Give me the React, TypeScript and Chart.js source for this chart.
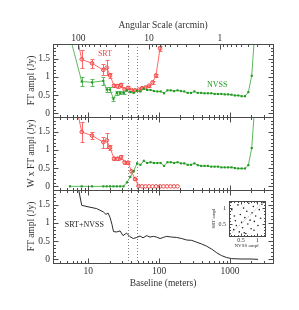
import React, { useEffect, useRef } from 'react';
import { Chart, registerables } from 'chart.js';
Chart.register(...registerables);

const FONT = "'Liberation Serif', 'Times New Roman', serif";
const RED = '#f04848';
const RED_LINE = '#ff6868';
const RED_FILL = 'rgba(255,150,150,0.35)';
const GREEN = '#1f9a1f';
const GREEN_LINE = '#5dba5d';
const INK = '#333333';
const FRAME = '#4a4a4a';
const DOT_LINE = '#808080';

// axis ranges
const X_MIN = 3.17;
const X_MAX = 4060;
const ARCMIN_TIMES_M = 721.9; // angular scale (arcmin) = this / baseline (m), 21 cm
const Y_MIN = -0.1;
const Y_MAX = 1.9;

// tick labels
const baselineTicks = [10, 100, 1000];
const angularTicks = [100, 10, 1];
const ampTicks = [0, 0.5, 1, 1.5];
const insetTicks = [0.5, 1];

// vertical dotted lines (baseline, m)
const dishLines = [35.8, 49.2];

// SRT
const srtBaseline = [5.51, 8.07, 11.28, 16.29, 18.19, 20.25, 23.07, 25.85, 28.97, 32.45, 36.37, 40.75, 45.66, 51.17, 57.34, 64.26, 72.01, 80.69, 90.42, 103.0, 115.4, 129.3, 144.9, 162.4, 181.9];
const srtAmpl = [3.0, 1.48, 1.37, 1.19, 1.25, 1.04, 0.76, 0.75, 0.78, 0.66, 0.70, 0.64, 0.63, 0.65, 0.69, 0.71, 0.76, 0.85, 1.04, 1.78, 2.1];
const srtErr = [0, 0.25, 0.12, 0.15, 0.21, 0.07, 0.05, 0.05, 0.05, 0.04, 0.04, 0.03, 0.03, 0.03, 0.03, 0.03, 0.03, 0.04, 0.04, 0.06, 0];
const srtWeighted = [3.0, 1.49, 1.39, 1.21, 1.26, 1.06, 0.76, 0.76, 0.80, 0.66, 0.65, 0.41, 0.20, 0.01, 0, 0, 0, 0, 0, 0, 0, 0, 0, 0, 0];
const srtWeightedErr = [0, 0.28, 0.10, 0.15, 0.20, 0.06, 0.05, 0.05, 0.05, 0.04, 0.04, 0.03, 0.03, 0, 0, 0, 0, 0, 0, 0, 0, 0, 0, 0, 0];

// NVSS
const nvssBaseline = [5.51, 8.07, 11.28, 16.29, 18.18, 20.29, 22.63, 25.26, 28.19, 31.46, 35.11, 39.17, 43.72, 48.78, 54.43, 60.76, 67.80, 75.68, 84.45, 94.23, 105.1, 117.3, 130.9, 146.1, 163.1, 182.0, 203.1, 226.6, 252.9, 282.2, 314.9, 351.4, 392.2, 437.6, 488.3, 544.9, 608.1, 678.6, 757.2, 845.0, 943.1, 1052, 1175, 1311, 1463, 1633, 1821, 2033, 2269];
const nvssAmpl = [2.1, 0.87, 0.85, 0.89, 0.65, 0.65, 0.40, 0.56, 0.56, 0.56, 0.63, 0.58, 0.56, 0.62, 0.60, 0.68, 0.64, 0.64, 0.61, 0.60, 0.60, 0.55, 0.63, 0.63, 0.61, 0.63, 0.61, 0.60, 0.56, 0.56, 0.60, 0.56, 0.56, 0.55, 0.55, 0.55, 0.53, 0.53, 0.53, 0.52, 0.52, 0.51, 0.49, 0.49, 0.47, 0.47, 0.58, 1.03, 2.35];
const nvssErr = [0, 0.13, 0.10, 0.10, 0.07, 0.07, 0.06, 0.05, 0.04, 0.04, 0, 0, 0, 0, 0, 0, 0, 0, 0, 0, 0, 0, 0, 0, 0, 0, 0, 0, 0, 0, 0, 0, 0, 0, 0, 0, 0, 0, 0, 0, 0, 0, 0, 0, 0, 0, 0, 0, 0];
const nvssWeighted = [0, 0, 0, 0, 0, 0, 0, 0, 0, 0, 0.11, 0.26, 0.42, 0.63, 0.59, 0.70, 0.64, 0.66, 0.64, 0.64, 0.64, 0.56, 0.66, 0.66, 0.64, 0.66, 0.63, 0.63, 0.59, 0.59, 0.63, 0.58, 0.56, 0.56, 0.56, 0.54, 0.54, 0.54, 0.52, 0.52, 0.52, 0.52, 0.50, 0.49, 0.49, 0.49, 0.58, 1.05, 2.35];

// SRT+NVSS combined
const combBaseline = [6.81, 8.07, 9.90, 13.14, 16.29, 17.78, 18.97, 20.25, 21.62, 22.69, 25.18, 28.04, 30.91, 34.64, 38.81, 43.21, 48.27, 53.74, 59.24, 66.83, 74.38, 82.81, 92.5, 103.0, 114.6, 128.0, 150.7, 177.3, 208.6, 245.3, 288.8, 339.8, 399.7, 470.2, 553.3, 651.1, 766, 901, 1060, 1389, 1922, 2494];
const combAmpl = [2.2, 1.48, 1.44, 1.39, 1.30, 1.23, 1.27, 1.15, 0.95, 0.76, 0.75, 0.78, 0.65, 0.72, 0.62, 0.57, 0.60, 0.64, 0.59, 0.65, 0.61, 0.63, 0.61, 0.57, 0.60, 0.63, 0.61, 0.60, 0.57, 0.53, 0.52, 0.47, 0.42, 0.36, 0.28, 0.18, 0.10, 0.05, 0.02, 0.01, 0.01, 0.0];

// inset scatter: NVSS ampl vs SRT ampl
const insetRange = [0.12, 1.22];
const insetNvss = [0.22, 0.28, 0.33, 0.36, 0.41, 0.45, 0.48, 0.52, 0.55, 0.58, 0.62, 0.65, 0.68, 0.71, 0.74, 0.78, 0.81, 0.84, 0.88, 0.91, 0.95, 0.98, 1.02, 1.06, 1.10, 1.14, 0.30, 0.60, 0.90, 1.18];
const insetSrt = [0.95, 0.32, 0.60, 0.45, 1.10, 0.25, 0.80, 0.55, 0.38, 1.00, 0.70, 0.20, 0.90, 0.50, 1.15, 0.62, 0.35, 0.85, 1.05, 0.58, 0.75, 1.20, 0.45, 0.95, 0.68, 1.12, 0.75, 0.22, 0.30, 1.18];

// text labels in data coordinates
const noteText = ['SRT', 'NVSS', 'SRT+NVSS'];
const noteX = [17.2, 663, 8.78];
const noteY = [1.62, 0.78, 0.94];
const noteAxis = ['y1', 'y1', 'y3'];
const noteColor = [RED, GREEN, '#222222'];

const pts = (xs: number[], ys: number[]) => ys.map((y, i) => ({ x: xs[i], y }));
const px = (v: number) => Math.round(v) + 0.5;

function logTickList(min: number, max: number) {
  const out: [number, boolean][] = [];
  for (let e = Math.floor(Math.log10(min)); e <= Math.ceil(Math.log10(max)); e++) {
    for (let m = 1; m <= 9; m++) {
      const v = m * Math.pow(10, e);
      if (v > min && v < max) out.push([v, m === 1]);
    }
  }
  return out;
}

const panelClip = {
  id: 'panelClip',
  beforeDatasetDraw(chart: any, args: any) {
    const { meta, index } = args;
    const ctx = chart.ctx;
    const xs = meta.xScale, ys = meta.yScale;
    ctx.save();
    ctx.beginPath();
    ctx.rect(xs.left, ys.top, xs.right - xs.left, ys.bottom - ys.top);
    ctx.clip();
    const ds = chart.data.datasets[index];
    if (ds.errors) {
      ctx.strokeStyle = ds.errorColor;
      ctx.lineWidth = 1;
      meta.data.forEach((el: any, i: number) => {
        const e = ds.errors[i];
        if (!e) return;
        const v = ds.data[i].y;
        const x = px(el.x);
        const y1 = Math.round(ys.getPixelForValue(v + e)) + 0.5;
        const y2 = Math.round(ys.getPixelForValue(v - e)) + 0.5;
        ctx.beginPath();
        ctx.moveTo(x, y1); ctx.lineTo(x, y2);
        ctx.moveTo(x - 2, y1); ctx.lineTo(x + 2, y1);
        ctx.moveTo(x - 2, y2); ctx.lineTo(x + 2, y2);
        ctx.stroke();
      });
    }
  },
  afterDatasetDraw(chart: any) {
    chart.ctx.restore();
  },
};

const decorations = {
  id: 'decorations',
  beforeDatasetsDraw(chart: any) {
    const ctx = chart.ctx;
    const x = chart.scales.x;
    const area = chart.chartArea;
    ctx.save();
    ctx.strokeStyle = DOT_LINE;
    ctx.lineWidth = 1;
    ctx.setLineDash([1, 2]);
    dishLines.forEach((b) => {
      const xx = px(x.getPixelForValue(b));
      ctx.beginPath();
      ctx.moveTo(xx, area.top);
      ctx.lineTo(xx, area.bottom);
      ctx.stroke();
    });
    ctx.restore();
  },
  afterDatasetsDraw(chart: any) {
    const ctx = chart.ctx;
    const x = chart.scales.x;
    ctx.save();
    ctx.font = `8px ${FONT}`;
    ctx.textAlign = 'center';
    ctx.textBaseline = 'middle';
    noteText.forEach((t, i) => {
      ctx.fillStyle = noteColor[i];
      ctx.fillText(t, x.getPixelForValue(noteX[i]), chart.scales[noteAxis[i]].getPixelForValue(noteY[i]));
    });
    ctx.restore();
  },
  afterDraw(chart: any) {
    const ctx = chart.ctx;
    const x = chart.scales.x;
    const xt = chart.scales.xTop;
    const L = px(x.left), R = px(x.right);
    const MAJ = 5, MIN = 2.5;
    const line = (x1: number, y1: number, x2: number, y2: number) => {
      ctx.beginPath(); ctx.moveTo(x1, y1); ctx.lineTo(x2, y2); ctx.stroke();
    };
    ctx.save();
    ctx.strokeStyle = FRAME;
    ctx.lineWidth = 1;
    const bTicks = logTickList(x.min, x.max);
    const aTicks = logTickList(xt.min, xt.max);
    ['y1', 'y2', 'y3'].forEach((id) => {
      const s = chart.scales[id];
      const T = px(s.top), B = px(s.bottom);
      ctx.strokeRect(L, T, R - L, B - T);
      for (let i = 0; i <= 18; i++) {
        const yy = px(s.getPixelForValue(i / 10));
        const len = i % 5 === 0 ? MAJ : MIN;
        line(L, yy, L + len, yy);
        line(R, yy, R - len, yy);
      }
      bTicks.forEach(([v, major]) => {
        const xx = px(x.getPixelForValue(v));
        const len = major ? MAJ : MIN;
        line(xx, B, xx, B - len);
        if (id !== 'y1') line(xx, T, xx, T + len);
      });
      if (id === 'y1') {
        aTicks.forEach(([v, major]) => {
          const xx = px(xt.getPixelForValue(v));
          const len = major ? MAJ : MIN;
          line(xx, T, xx, T + len);
        });
      }
    });
    ctx.restore();
  },
};

const axisFont = { family: FONT, size: 9.5 };

const yAxis = (title: string, weight: number) => ({
  type: 'linear',
  position: 'left',
  stack: 'panels',
  stackWeight: 1,
  weight,
  min: Y_MIN,
  max: Y_MAX,
  grid: { display: false, drawTicks: false },
  border: { display: false },
  afterBuildTicks: (s: any) => { s.ticks = ampTicks.map((v) => ({ value: v })); },
  afterFit: (s: any) => { s.width = 53; },
  ticks: { padding: 3, color: INK, font: axisFont, autoSkip: false, callback: (v: any) => String(v) },
  title: { display: true, text: title, color: INK, font: axisFont, padding: { top: 25.8, bottom: 0 } },
});

function mainConfig(): any {
  return {
    type: 'line',
    data: {
      datasets: [
        {
          data: pts(nvssBaseline, nvssAmpl), xAxisID: 'x', yAxisID: 'y1',
          borderColor: GREEN_LINE, borderWidth: 1, pointStyle: 'rect', pointRadius: 1.5,
          pointBackgroundColor: GREEN, pointBorderColor: GREEN, pointBorderWidth: 0,
          errors: nvssErr, errorColor: GREEN_LINE,
        },
        {
          data: pts(srtBaseline, srtAmpl), xAxisID: 'x', yAxisID: 'y1',
          borderColor: RED_LINE, borderWidth: 1, pointStyle: 'circle', pointRadius: 1.8,
          pointBackgroundColor: RED_FILL, pointBorderColor: RED, pointBorderWidth: 1,
          errors: srtErr, errorColor: RED_LINE,
        },
        {
          data: pts(nvssBaseline, nvssWeighted), xAxisID: 'x', yAxisID: 'y2',
          borderColor: GREEN_LINE, borderWidth: 1, pointStyle: 'rect', pointRadius: 1.5,
          pointBackgroundColor: GREEN, pointBorderColor: GREEN, pointBorderWidth: 0,
        },
        {
          data: pts(srtBaseline, srtWeighted), xAxisID: 'x', yAxisID: 'y2',
          borderColor: RED_LINE, borderWidth: 1, pointStyle: 'circle', pointRadius: 1.8,
          pointBackgroundColor: (c: any) => (c.raw && c.raw.y === 0 ? '#ffffff' : RED_FILL),
          pointBorderColor: RED, pointBorderWidth: 1,
          errors: srtWeightedErr, errorColor: RED_LINE,
        },
        {
          data: pts(combBaseline, combAmpl), xAxisID: 'x', yAxisID: 'y3',
          borderColor: '#2a2a2a', borderWidth: 1, pointRadius: 0,
        },
      ],
    },
    options: {
      animation: false,
      responsive: false,
      devicePixelRatio: 1,
      events: [],
      layout: { padding: { left: 0, right: 26, top: 0, bottom: 0 } },
      plugins: { legend: { display: false }, tooltip: { enabled: false } },
      scales: {
        x: {
          type: 'logarithmic', position: 'bottom', min: X_MIN, max: X_MAX,
          grid: { display: false, drawTicks: false }, border: { display: false },
          afterBuildTicks: (s: any) => { s.ticks = baselineTicks.map((v) => ({ value: v })); },
          afterFit: (s: any) => { s.height = 47; },
          ticks: { padding: 3, autoSkip: false, maxRotation: 0, color: INK, font: axisFont, callback: (v: any) => String(v) },
          title: { display: true, text: 'Baseline (meters)', color: INK, font: axisFont, padding: { top: 0, bottom: 21 } },
        },
        xTop: {
          type: 'logarithmic', position: 'top', reverse: true,
          min: ARCMIN_TIMES_M / X_MAX, max: ARCMIN_TIMES_M / X_MIN,
          grid: { display: false, drawTicks: false }, border: { display: false },
          afterBuildTicks: (s: any) => { s.ticks = angularTicks.map((v) => ({ value: v })); },
          afterFit: (s: any) => { s.height = 44; },
          ticks: { padding: 0, autoSkip: false, maxRotation: 0, color: INK, font: axisFont, callback: (v: any) => String(v) },
          title: { display: true, text: 'Angular Scale (arcmin)', color: INK, font: axisFont, padding: { top: 19.3, bottom: 0 } },
        },
        y1: yAxis('FT ampl (Jy)', 3),
        y2: yAxis('W x FT ampl (Jy)', 2),
        y3: yAxis('FT ampl (Jy)', 1),
      },
    },
    plugins: [panelClip, decorations],
  };
}

const insetDecor = {
  id: 'insetDecor',
  beforeDraw(chart: any) {
    const a = chart.chartArea;
    const ctx = chart.ctx;
    ctx.save();
    ctx.fillStyle = '#ffffff';
    ctx.fillRect(a.left, a.top, a.right - a.left, a.bottom - a.top);
    ctx.restore();
  },
  afterDraw(chart: any) {
    const ctx = chart.ctx;
    const a = chart.chartArea;
    const x = chart.scales.x, y = chart.scales.y;
    const L = px(a.left), R = px(a.right), T = px(a.top), B = px(a.bottom);
    ctx.save();
    ctx.strokeStyle = FRAME;
    ctx.lineWidth = 1;
    ctx.strokeRect(L, T, R - L, B - T);
    const line = (x1: number, y1: number, x2: number, y2: number) => {
      ctx.beginPath(); ctx.moveTo(x1, y1); ctx.lineTo(x2, y2); ctx.stroke();
    };
    for (let i = 2; i <= 12; i++) {
      const v = i / 10;
      const len = i % 5 === 0 ? 3 : 1.5;
      if (v > x.min && v < x.max) {
        const xx = px(x.getPixelForValue(v));
        line(xx, B, xx, B - len);
        line(xx, T, xx, T + len);
      }
      if (v > y.min && v < y.max) {
        const yy = px(y.getPixelForValue(v));
        line(L, yy, L + len, yy);
        line(R, yy, R - len, yy);
      }
    }
    ctx.restore();
  },
};

function insetConfig(): any {
  const tickFont = { family: FONT, size: 6 };
  const titleFont = { family: FONT, size: 5 };
  return {
    type: 'scatter',
    data: {
      datasets: [
        {
          data: [{ x: insetRange[0], y: insetRange[0] }, { x: insetRange[1], y: insetRange[1] }],
          showLine: true, borderColor: '#888888', borderWidth: 0.8, borderDash: [1, 1.5], pointRadius: 0,
        },
        {
          data: pts(insetNvss, insetSrt),
          pointRadius: 0.8, pointBackgroundColor: '#222222', pointBorderWidth: 0,
        },
      ],
    },
    options: {
      animation: false,
      responsive: false,
      devicePixelRatio: 1,
      events: [],
      layout: { padding: { left: 0, right: 7.5, top: 5.5, bottom: 0 } },
      plugins: { legend: { display: false }, tooltip: { enabled: false } },
      scales: {
        x: {
          type: 'linear', min: insetRange[0], max: insetRange[1],
          grid: { display: false, drawTicks: false }, border: { display: false },
          afterBuildTicks: (s: any) => { s.ticks = insetTicks.map((v) => ({ value: v })); },
          afterFit: (s: any) => { s.height = 17; },
          ticks: { padding: 0.9, autoSkip: false, maxRotation: 0, color: INK, font: tickFont, callback: (v: any) => String(v) },
          title: { display: true, text: 'NVSS ampl', color: INK, font: titleFont, padding: { top: 0, bottom: 4.2 } },
        },
        y: {
          type: 'linear', min: insetRange[0], max: insetRange[1],
          grid: { display: false, drawTicks: false }, border: { display: false },
          afterBuildTicks: (s: any) => { s.ticks = insetTicks.map((v) => ({ value: v })); },
          afterFit: (s: any) => { s.width = 28.5; },
          ticks: { padding: 2.5, autoSkip: false, color: INK, font: tickFont, callback: (v: any) => String(v) },
          title: { display: true, text: 'SRT ampl', color: INK, font: titleFont, padding: { top: 10.3, bottom: 0 } },
        },
      },
    },
    plugins: [insetDecor],
  };
}

export default function App() {
  const mainRef = useRef<HTMLCanvasElement>(null);
  const insetRef = useRef<HTMLCanvasElement>(null);
  useEffect(() => {
    const main = new Chart(mainRef.current as HTMLCanvasElement, mainConfig());
    const inset = new Chart(insetRef.current as HTMLCanvasElement, insetConfig());
    return () => {
      main.destroy();
      inset.destroy();
    };
  }, []);
  return (
    <div style={{ position: 'absolute', left: 0, top: 0, width: 299, height: 310, background: '#ffffff' }}>
      <canvas ref={mainRef} width={299} height={310} style={{ position: 'absolute', left: 0, top: 0 }} />
      <canvas ref={insetRef} width={72} height={58} style={{ position: 'absolute', left: 200, top: 195 }} />
    </div>
  );
}
